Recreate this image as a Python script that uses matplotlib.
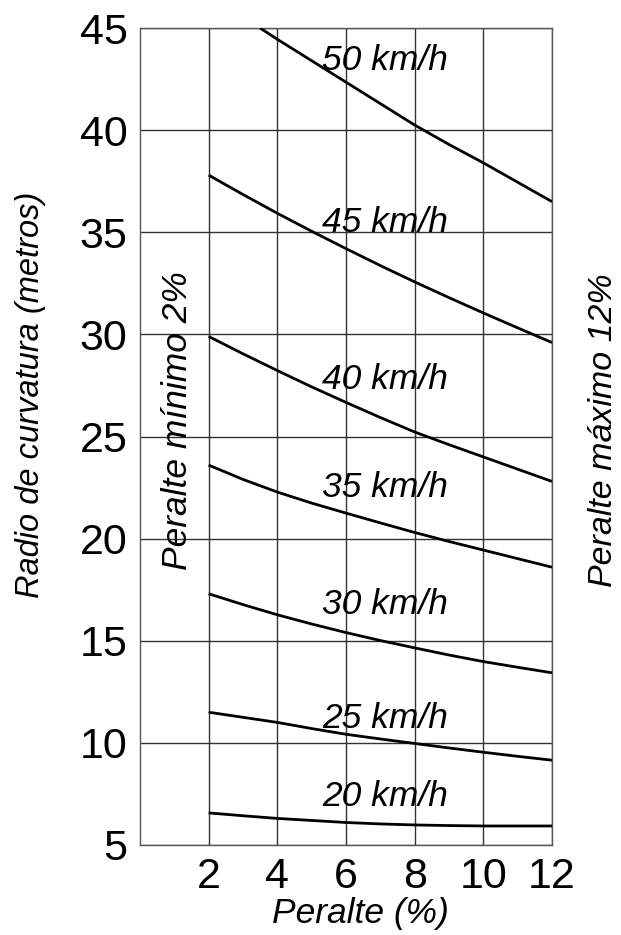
# Radio de curvatura vs peralte, curvas por velocidad de diseño
import matplotlib.pyplot as plt

# Data
peralte = [2, 3, 4, 5, 6, 7, 8, 9, 10, 11, 12]
radio_20 = [6.57, 6.43, 6.3, 6.2, 6.1, 6.03, 5.98, 5.95, 5.93, 5.93, 5.93]
radio_25 = [11.5, 11.25, 11.0, 10.7, 10.42, 10.19, 9.97, 9.75, 9.54, 9.34, 9.15]
radio_30 = [17.3, 16.77, 16.27, 15.82, 15.4, 15.01, 14.65, 14.3, 13.98, 13.7, 13.43]
radio_35 = [23.6, 22.9, 22.28, 21.74, 21.25, 20.77, 20.3, 19.86, 19.44, 19.02, 18.6]
radio_40 = [29.9, 29.05, 28.23, 27.43, 26.67, 25.93, 25.22, 24.6, 24.0, 23.4, 22.8]
radio_45 = [37.8, 36.85, 35.93, 35.05, 34.2, 33.37, 32.57, 31.8, 31.05, 30.32, 29.6]
peralte_50 = [3.5, 4, 5, 6, 7, 8, 9, 10, 11, 12]
radio_50 = [45.0, 44.45, 43.4, 42.35, 41.3, 40.25, 39.3, 38.4, 37.45, 36.5]

curvas = [(peralte, radio_20), (peralte, radio_25), (peralte, radio_30), (peralte, radio_35),
          (peralte, radio_40), (peralte, radio_45), (peralte_50, radio_50)]
etiquetas = ['20 km/h', '25 km/h', '30 km/h', '35 km/h', '40 km/h', '45 km/h', '50 km/h']
etiqueta_y = [7.35, 11.2, 16.75, 22.5, 27.8, 35.5, 43.4]

x_ticks = [2, 4, 6, 8, 10, 12]
y_ticks = [5, 10, 15, 20, 25, 30, 35, 40, 45]

plt.rcParams['font.family'] = ['Liberation Sans', 'DejaVu Sans']

fig = plt.figure(figsize=(6.21, 9.35), dpi=100)
ax = fig.add_axes([0.2254, 0.0963, 0.6635, 0.8737])

for (xs, ys), lab, ly in zip(curvas, etiquetas, etiqueta_y):
    ax.plot(xs, ys, color='black', linewidth=2.0, solid_capstyle='butt',
            solid_joinstyle='round', zorder=3)
    ax.text(5.3, ly, lab, fontsize=25.5, style='italic', ha='left', va='center', zorder=4)

ax.set_xlim(0, 12)
ax.set_ylim(5, 45)
ax.set_xticks(x_ticks)
ax.set_yticks(y_ticks)
ax.grid(True, color='#333333', linewidth=1.0)
ax.set_axisbelow(True)
for s in ax.spines.values():
    s.set_color('#555555')
    s.set_linewidth(1.0)
ax.tick_params(length=0, labelsize=31, pad=9)

ax.set_xlabel('Peralte (%)', fontsize=25.5, style='italic', labelpad=0)
ax.xaxis.label.set_x(0.536)
ax.set_ylabel('Radio de curvatura (metros)', fontsize=23.5, style='italic', labelpad=24)
ax.yaxis.label.set_y(0.551)

ax.text(1.1, 25.8, 'Peralte mínimo 2%', rotation=90, fontsize=25.5, style='italic',
        ha='center', va='center', zorder=4)
ax.text(13.5, 25.3, 'Peralte máximo 12%', rotation=90, fontsize=24.5, style='italic',
        ha='center', va='center', clip_on=False)

fig.savefig('out.png', dpi=100)
